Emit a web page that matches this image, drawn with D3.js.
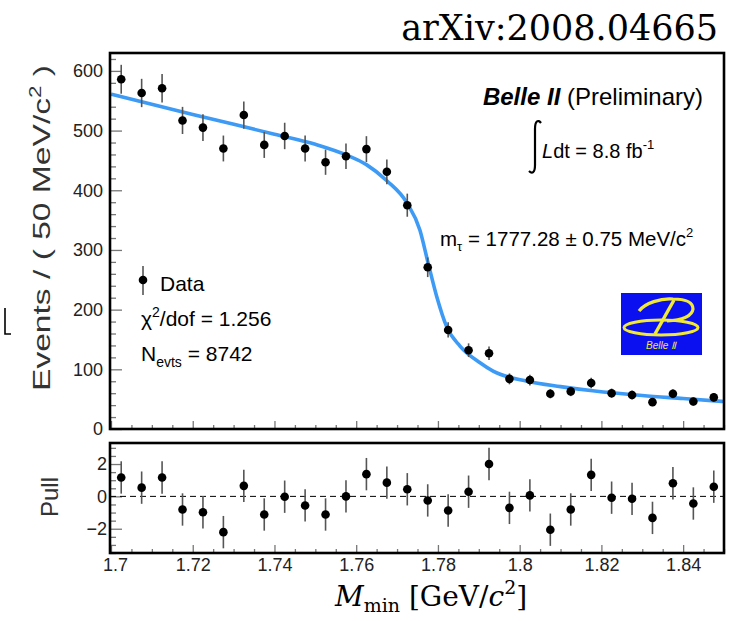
<!DOCTYPE html>
<html>
<head>
<meta charset="utf-8">
<script src="https://cdn.jsdelivr.net/npm/d3@7"></script>
<style>
  html, body { margin: 0; padding: 0; background: #fff; }
  svg { display: block; }
  .sans { font-family: "Liberation Sans", Arial, Helvetica, sans-serif; }
  .serif { font-family: "DejaVu Serif", "Liberation Serif", serif; }
</style>
</head>
<body>
<svg id="chart" width="731" height="621"></svg>
<script>
// Bin centres of the M_min histogram (GeV/c^2)
const binCenters = [1.7025, 1.7075, 1.7125, 1.7175, 1.7225, 1.7275, 1.7325, 1.7375, 1.7425, 1.7475,
                    1.7525, 1.7575, 1.7625, 1.7675, 1.7725, 1.7775, 1.7825, 1.7875, 1.7925, 1.7975,
                    1.8025, 1.8075, 1.8125, 1.8175, 1.8225, 1.8275, 1.8325, 1.8375, 1.8425, 1.8475];
// Events per bin
const counts = [586, 563, 571, 517, 505, 470, 526, 476, 491, 470,
                447, 457, 469, 431, 375, 271, 166, 132, 127, 84,
                82, 59, 63, 77, 60, 57, 45, 59, 46, 53];
// Pull of each bin relative to the fit
const pulls = [1.17, 0.54, 1.17, -0.81, -0.98, -2.21, 0.65, -1.12, -0.02, -0.56,
               -1.12, 0.0, 1.375, 0.85, 0.44, -0.25, -0.875, 0.29, 2.0, -0.71,
               0.06, -2.06, -0.81, 1.33, -0.08, -0.15, -1.33, 0.81, -0.44, 0.6];
// Fitted edge function, sampled
const fitMass   = [1.700, 1.720, 1.740, 1.750, 1.758, 1.7625, 1.7675, 1.7724, 1.7756, 1.7776,
                   1.7797, 1.7821, 1.7854, 1.7903, 1.7935, 1.8018, 1.8100, 1.8179, 1.8300, 1.8400, 1.8500];
const fitEvents = [561, 527, 494, 477, 458, 443, 416, 379, 333, 278,
                   222, 172, 139, 111, 97, 80, 71, 64, 56, 51, 46];
// Axis tick values
const xMajorTicks = [1.70, 1.72, 1.74, 1.76, 1.78, 1.80, 1.82, 1.84];
const xTickLabels = ["1.7", "1.72", "1.74", "1.76", "1.78", "1.8", "1.82", "1.84"];
const yMajorTicks = [0, 100, 200, 300, 400, 500, 600];
const pullMajorTicks = [-2, 0, 2];

const svg = d3.select("#chart");

const x = d3.scaleLinear().domain([1.7, 1.85]).range([111, 724]);
const yMain = d3.scaleLinear().domain([0, 630]).range([429, 53]);
const yPull = d3.scaleLinear().domain([-3.5, 3.3]).range([553, 443]);

const tickColor = "#777";
const labelColor = "#222";

function styleAxis(g, fontSize) {
  g.select(".domain").remove();
  g.selectAll(".tick line").attr("stroke", tickColor).attr("stroke-width", 1.3);
  g.selectAll(".tick text")
    .attr("class", "sans")
    .attr("fill", labelColor)
    .style("font-size", fontSize + "px")
    .style("font-family", "'Liberation Sans', Arial, sans-serif");
}

// ---------- Main panel ----------
const mainMinorY = d3.range(0, 631, 20).filter(v => v % 100 !== 0);
svg.append("g").attr("transform", "translate(110,0)")
  .call(d3.axisLeft(yMain).tickValues(mainMinorY).tickSize(-6).tickFormat(""))
  .call(g => styleAxis(g, 18));
svg.append("g").attr("transform", "translate(110,0)")
  .call(d3.axisLeft(yMain).tickValues(yMajorTicks).tickSize(-12).tickPadding(7))
  .call(g => styleAxis(g, 18));

const xMinor = d3.range(0, 31).map(i => 1.7 + i * 0.005).filter((v, i) => i % 4 !== 0);
svg.append("g").attr("transform", "translate(0,429)")
  .call(d3.axisBottom(x).tickValues(xMinor).tickSize(-4).tickFormat(""))
  .call(g => styleAxis(g, 18));
svg.append("g").attr("transform", "translate(0,429)")
  .call(d3.axisBottom(x).tickValues(xMajorTicks).tickSize(-8).tickFormat(""))
  .call(g => styleAxis(g, 18));

// Fit curve
svg.append("clipPath").attr("id", "mainClip")
  .append("rect").attr("x", 110).attr("y", 53).attr("width", 614).attr("height", 376);
const fitLine = d3.line()
  .x(d => x(d[0])).y(d => yMain(d[1]))
  .curve(d3.curveMonotoneX);
svg.append("path")
  .datum(fitMass.map((m, i) => [m, fitEvents[i]]))
  .attr("clip-path", "url(#mainClip)")
  .attr("d", fitLine)
  .attr("fill", "none")
  .attr("stroke", "#3d9bf5")
  .attr("stroke-width", 3.6);

// Data points with Poisson error bars
const mainPts = svg.append("g");
mainPts.selectAll("line").data(counts).join("line")
  .attr("x1", (d, i) => x(binCenters[i])).attr("x2", (d, i) => x(binCenters[i]))
  .attr("y1", d => yMain(d + Math.sqrt(d))).attr("y2", d => yMain(d - Math.sqrt(d)))
  .attr("stroke", "#555").attr("stroke-width", 1.6);
mainPts.selectAll("circle").data(counts).join("circle")
  .attr("cx", (d, i) => x(binCenters[i])).attr("cy", d => yMain(d))
  .attr("r", 4.3).attr("fill", "#000");

// Frame
svg.append("rect").attr("x", 110).attr("y", 53).attr("width", 614).attr("height", 376)
  .attr("fill", "none").attr("stroke", "#000").attr("stroke-width", 2.6);

// ---------- Pull panel ----------
const pullMinor = d3.range(-3.5, 3.01, 0.5).filter(v => Math.abs(v % 2) > 1e-9);
svg.append("g").attr("transform", "translate(110,0)")
  .call(d3.axisLeft(yPull).tickValues(pullMinor).tickSize(-6).tickFormat(""))
  .call(g => styleAxis(g, 18));
svg.append("g").attr("transform", "translate(110,0)")
  .call(d3.axisLeft(yPull).tickValues(pullMajorTicks).tickSize(-12).tickPadding(3)
        .tickFormat(d => d < 0 ? "\u2212" + Math.abs(d) : String(d)))
  .call(g => styleAxis(g, 18));

svg.append("g").attr("transform", "translate(0,553)")
  .call(d3.axisBottom(x).tickValues(xMinor).tickSize(-4).tickFormat(""))
  .call(g => styleAxis(g, 18));
const pullX = svg.append("g").attr("transform", "translate(0,553)")
  .call(d3.axisBottom(x).tickValues(xMajorTicks).tickSize(-8).tickPadding(5)
        .tickFormat((d, i) => xTickLabels[i]))
  .call(g => styleAxis(g, 18));
pullX.selectAll(".tick text").filter((d, i) => i === 0).attr("dx", 4);

// Zero reference
svg.append("line")
  .attr("x1", 110).attr("x2", 724).attr("y1", yPull(0)).attr("y2", yPull(0))
  .attr("stroke", "#000").attr("stroke-width", 1).attr("stroke-dasharray", "6,4");

const pullPts = svg.append("g");
pullPts.selectAll("line").data(pulls).join("line")
  .attr("x1", (d, i) => x(binCenters[i])).attr("x2", (d, i) => x(binCenters[i]))
  .attr("y1", d => yPull(d + 1)).attr("y2", d => yPull(d - 1))
  .attr("stroke", "#555").attr("stroke-width", 1.6);
pullPts.selectAll("circle").data(pulls).join("circle")
  .attr("cx", (d, i) => x(binCenters[i])).attr("cy", d => yPull(d))
  .attr("r", 4.3).attr("fill", "#000");

svg.append("rect").attr("x", 110).attr("y", 443).attr("width", 614).attr("height", 110)
  .attr("fill", "none").attr("stroke", "#000").attr("stroke-width", 2.6);

// ---------- Axis titles ----------
const yTitle = svg.append("text").attr("class", "sans")
  .attr("transform", "translate(50,228) rotate(-90)")
  .attr("text-anchor", "middle")
  .attr("fill", "#333")
  .attr("textLength", 326)
  .attr("lengthAdjust", "spacingAndGlyphs")
  .style("font-size", "24px");
yTitle.append("tspan").text("Events / ( 50 MeV/c");
yTitle.append("tspan").attr("dy", -9).style("font-size", "16px").text("2");
yTitle.append("tspan").attr("dy", 9).text(" )");

svg.append("text").attr("class", "sans")
  .attr("transform", "translate(58,497) rotate(-90)")
  .attr("text-anchor", "middle")
  .attr("fill", "#333")
  .style("font-size", "24px")
  .text("Pull");

const xTitle = svg.append("text").attr("class", "serif")
  .attr("x", 335).attr("y", 606)
  .attr("fill", "#000")
  .style("font-size", "28px");
xTitle.append("tspan").style("font-style", "italic").text("M");
xTitle.append("tspan").attr("dy", 6).style("font-size", "19px").text("min");
xTitle.append("tspan").attr("dy", -6).text(" [GeV/");
xTitle.append("tspan").style("font-style", "italic").text("c");
xTitle.append("tspan").attr("dy", -12).style("font-size", "19px").text("2");
xTitle.append("tspan").attr("dy", 12).text("]");

// arXiv reference
svg.append("text").attr("class", "serif")
  .attr("x", 718).attr("y", 40)
  .attr("text-anchor", "end")
  .attr("fill", "#000")
  .style("font-size", "35px")
  .text("arXiv:2008.04665");

// ---------- Annotations ----------
const belle = svg.append("text").attr("class", "sans")
  .attr("x", 703).attr("y", 105).attr("text-anchor", "end")
  .attr("fill", "#000").style("font-size", "24px");
belle.append("tspan").style("font-weight", "bold").style("font-style", "italic").text("Belle II");
belle.append("tspan").text(" (Preliminary)");

// integral sign
svg.append("path")
  .attr("d", "M541,123 C538,119 535,121 535,129 L535,165 C535,173 532,174 529,171")
  .attr("fill", "none").attr("stroke", "#000").attr("stroke-width", 2.2);
const lumi = svg.append("text").attr("class", "sans")
  .attr("x", 542).attr("y", 158).attr("fill", "#000").style("font-size", "20px");
lumi.append("tspan").style("font-style", "italic").text("L");
lumi.append("tspan").text("dt = 8.8 fb");
lumi.append("tspan").attr("dy", -9).style("font-size", "13px").text("-1");

const mtau = svg.append("text").attr("class", "sans")
  .attr("x", 440).attr("y", 246).attr("fill", "#000").style("font-size", "20.5px");
mtau.append("tspan").text("m");
mtau.append("tspan").attr("dy", 5).style("font-size", "13px").text("\u03c4");
mtau.append("tspan").attr("dy", -5).text(" = 1777.28 \u00b1 0.75 MeV/c");
mtau.append("tspan").attr("dy", -9).style("font-size", "13px").text("2");

// Legend and fit summary
svg.append("line").attr("x1", 143).attr("x2", 143).attr("y1", 266).attr("y2", 295)
  .attr("stroke", "#555").attr("stroke-width", 1.6);
svg.append("circle").attr("cx", 143).attr("cy", 280).attr("r", 4.3).attr("fill", "#000");
svg.append("text").attr("class", "sans").attr("x", 160).attr("y", 291)
  .attr("fill", "#000").style("font-size", "21px").text("Data");

const chi = svg.append("text").attr("class", "sans").attr("x", 141).attr("y", 326)
  .attr("fill", "#000").style("font-size", "21px");
chi.append("tspan").text("\u03c7");
chi.append("tspan").attr("dy", -9).style("font-size", "14px").text("2");
chi.append("tspan").attr("dy", 9).text("/dof = 1.256");

const nev = svg.append("text").attr("class", "sans").attr("x", 141).attr("y", 361)
  .attr("fill", "#000").style("font-size", "21px");
nev.append("tspan").text("N");
nev.append("tspan").attr("dy", 6).style("font-size", "14px").text("evts");
nev.append("tspan").attr("dy", -6).text(" = 8742");

// Belle II logo
const logo = svg.append("g").attr("transform", "translate(621,293)");
logo.append("rect").attr("width", 81).attr("height", 62).attr("fill", "#0a10f0");
const yellow = "#f2e836";
logo.append("ellipse").attr("cx", 40).attr("cy", 34.5).attr("rx", 37).attr("ry", 7.5)
  .attr("fill", "none").attr("stroke", yellow).attr("stroke-width", 3);
logo.append("path")
  .attr("d", "M18,18 C24,10 40,5 52,6 C64,6 72,9 72,16 C71,23 62,27 46,28")
  .attr("fill", "none").attr("stroke", yellow).attr("stroke-width", 3.2);
logo.append("path")
  .attr("d", "M53,7 L34,41")
  .attr("fill", "none").attr("stroke", yellow).attr("stroke-width", 3.4);
logo.append("text").attr("x", 40).attr("y", 56).attr("text-anchor", "middle")
  .attr("class", "sans").attr("fill", yellow)
  .style("font-size", "10px").style("font-style", "italic")
  .text("Belle \u2161");

// small mark at the left margin
svg.append("path").attr("d", "M5,308 L5,334 L11,334")
  .attr("fill", "none").attr("stroke", "#000").attr("stroke-width", 1.6);
</script>
</body>
</html>
